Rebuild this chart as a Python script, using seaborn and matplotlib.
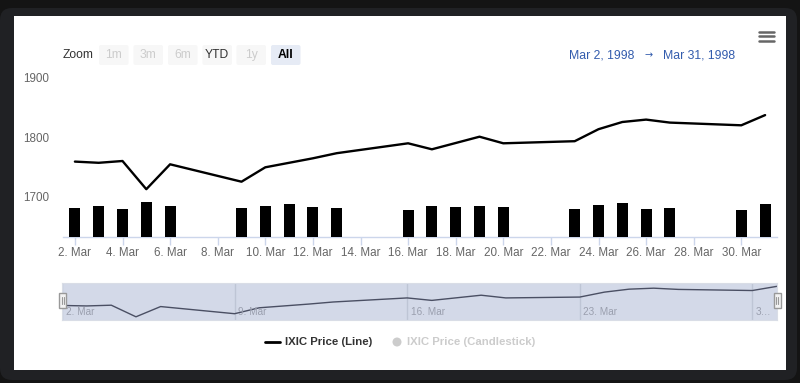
import matplotlib
matplotlib.use("Agg")
import matplotlib.pyplot as plt
import seaborn as sns
import pandas as pd
from matplotlib.patches import FancyBboxPatch, Rectangle, Circle

# ---------------- data ----------------
days = [2, 3, 4, 5, 6, 9, 10, 11, 12, 13, 16, 17, 18, 19, 20, 23, 24, 25, 26, 27, 30, 31]
price = [1759, 1757, 1760, 1713, 1754.5, 1725.5, 1749.5, 1757, 1764.5, 1773,
         1789.5, 1779.5, 1790, 1800.5, 1789.5, 1793, 1813, 1825, 1829, 1824, 1819.5, 1836.5]
volume = [725, 775, 708, 868, 775, 725, 775, 825, 750, 725,
          683, 775, 750, 775, 750, 708, 800, 850, 708, 733, 668, 825]
tick_days = list(range(2, 31, 2))
tick_labels = [f"{d}. Mar" for d in tick_days]
y_ticks = [1700, 1800, 1900]
nav_ticks = [2, 9, 16, 23, 30]
nav_labels = ["2. Mar", "9. Mar", "16. Mar", "23. Mar", "3…"]
buttons = ["1m", "3m", "6m", "YTD", "1y", "All"]
range_from, range_to = "Mar 2, 1998", "Mar 31, 1998"
legend_labels = ["IXIC Price (Line)", "IXIC Price (Candlestick)"]

df = pd.DataFrame({"day": days, "price": price, "volume": volume})

sns.set_theme(style="white")
plt.rcParams["font.family"] = ["Liberation Sans", "DejaVu Sans"]
FS = 8.4

W, H = 800, 383
fig = plt.figure(figsize=(8, 3.83), dpi=100)
fig.patch.set_facecolor("#141414")


def px_axes(x0, y0, x1, y1, **kw):
    return fig.add_axes([x0 / W, 1 - y1 / H, (x1 - x0) / W, (y1 - y0) / H], **kw)


# background overlay
bg = px_axes(0, 0, W, H)
bg.set_xlim(0, W); bg.set_ylim(H, 0); bg.axis("off")
bg.add_patch(FancyBboxPatch((0, 8), 797, 372, boxstyle="round,pad=0,rounding_size=12",
                            fc="#202124", ec="none"))
bg.add_patch(Rectangle((14, 16), 772, 354, fc="white", ec="none"))

# ---------------- main chart ----------------
ax = px_axes(63, 70, 777, 237)
ax.set_facecolor("none")
sns.lineplot(data=df, x="day", y="price", color="black", lw=1.7, ax=ax)
ax2 = ax.twinx()
sns.barplot(data=df, x="day", y="volume", native_scale=True, width=0.46,
            color="black", saturation=1, linewidth=0, ax=ax2)
ax2.set_ylim(0, 167 * 25)
ax2.axis("off")

ax.set_xlim(1.5, 31.5)
ax.set_ylim(1633.33, 1911.67)
ax.set_xticks(tick_days)
ax.set_xticklabels(tick_labels)
ax.set_yticks(y_ticks)
ax.set_yticklabels([str(v) for v in y_ticks])
ax.set_xlabel(""); ax.set_ylabel("")
for s in ["top", "right", "left"]:
    ax.spines[s].set_visible(False)
ax.spines["bottom"].set_color("#ccd6eb")
ax.spines["bottom"].set_linewidth(1)
ax.tick_params(axis="x", direction="out", length=6, width=1, color="#ccd6eb",
               labelcolor="#666666", labelsize=FS, pad=1.2, bottom=True)
ax.tick_params(axis="y", length=0, labelcolor="#666666", labelsize=FS, pad=10)
ax.grid(False)

# ---------------- navigator ----------------
nav = px_axes(62, 283, 777, 320)
nav.set_facecolor("#d3d9e8")
sns.lineplot(data=df, x="day", y="price", color="#4a4f63", lw=1.0, ax=nav)
nav.set_xlim(2, 31)
nav.set_ylim(1700, 1850)
nav.set_xticks(nav_ticks)
nav.set_xticklabels([])
nav.set_yticks([])
nav.set_xlabel(""); nav.set_ylabel("")
nav.tick_params(length=0)
nav.grid(True, axis="x", color="#bec5d5", lw=1)
for s in nav.spines.values():
    s.set_color("#d9dde6"); s.set_linewidth(0.8)
for d, lab in zip(nav_ticks, nav_labels):
    nav.text(d + 0.15, 0.22, lab, transform=nav.get_xaxis_transform(),
             ha="left", va="center", color="#9a9fae", fontsize=7.2)

# ---------------- foreground overlay ----------------
fg = px_axes(0, 0, W, H)
fg.set_xlim(0, W); fg.set_ylim(H, 0); fg.axis("off")
fg.patch.set_alpha(0)

# navigator handles
for hx in (59, 773.5):
    fg.add_patch(Rectangle((hx, 293), 7, 15, fc="#f2f2f2", ec="#999999", lw=1))
    for lx in (hx + 2.5, hx + 4.5):
        fg.plot([lx, lx], [297, 304], color="#999999", lw=0.8)

# range selector
fg.text(63, 55, "Zoom", ha="left", va="center", color="#333333", fontsize=FS + 0.3)
btn_x = [99, 133.5, 168, 202.5, 236.5, 271]
for bx, lab in zip(btn_x, buttons):
    if lab == "All":
        fc, tc, fw = "#e6ebf5", "#000000", "bold"
    elif lab == "YTD":
        fc, tc, fw = "#f7f7f7", "#333333", "normal"
    else:
        fc, tc, fw = "#f7f7f7", "#cccccc", "normal"
    fg.add_patch(FancyBboxPatch((bx, 45), 29.5, 20, boxstyle="round,pad=0,rounding_size=2",
                                fc=fc, ec="none"))
    fg.text(bx + 14.75, 55, lab, ha="center", va="center", color=tc, fontsize=FS + 0.3,
            fontweight=fw)

# date range
fg.text(634, 55, range_from, ha="right", va="center", color="#335cad", fontsize=FS + 0.4)
fg.text(649, 55, "→", ha="center", va="center", color="#335cad", fontsize=7,
        family=["DejaVu Sans"])
fg.text(663, 55, range_to, ha="left", va="center", color="#335cad", fontsize=FS + 0.4)

# menu icon
for yy in (31.5, 36, 40.5):
    fg.plot([759, 774], [yy, yy], color="#666666", lw=1.8, solid_capstyle="round")

# legend
fg.plot([265, 280], [342, 342], color="black", lw=2)
fg.text(285, 342, legend_labels[0], ha="left", va="center", color="#333333",
        fontsize=8.2, fontweight="bold")
fg.add_patch(Circle((397, 342), 4.5, fc="#cccccc", ec="none"))
fg.text(407, 342, legend_labels[1], ha="left", va="center", color="#cccccc",
        fontsize=8.2, fontweight="bold")

fig.savefig("out.png", dpi=100, facecolor=fig.get_facecolor())
